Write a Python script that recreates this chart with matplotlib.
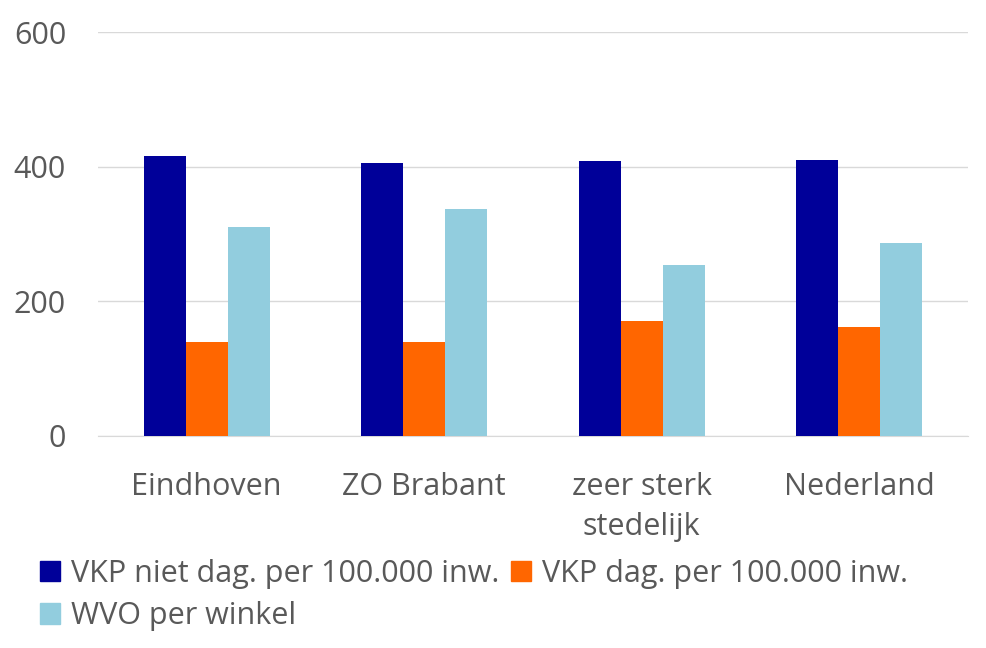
import matplotlib
matplotlib.use("Agg")
import matplotlib.pyplot as plt
import numpy as np
from matplotlib.patches import Patch

categories = ["Eindhoven", "ZO Brabant", "zeer sterk\nstedelijk", "Nederland"]
series_names = ["VKP niet dag. per 100.000 inw.", "VKP dag. per 100.000 inw.", "WVO per winkel"]
vkp_niet_dag = [416, 405, 408, 410]
vkp_dag = [139, 139, 171, 162]
wvo_per_winkel = [310, 337, 254, 287]
yticks = [0, 200, 400, 600]

colors = ["#000099", "#FF6600", "#92CDDE"]
text_color = "#595959"
grid_color = "#D9D9D9"

plt.rcParams['font.family'] = ['Open Sans', 'DejaVu Sans']
fs = 22

fig = plt.figure(figsize=(9.87, 6.48), dpi=100)
ax = fig.add_axes([98/987, 1 - 435.7/648, (968-98)/987, (435.7-32.3)/648])

x = np.arange(len(categories))
w = 0.193
data = [vkp_niet_dag, vkp_dag, wvo_per_winkel]
for i, (vals, c) in enumerate(zip(data, colors)):
    ax.bar(x + (i - 1) * w, vals, width=w, color=c, zorder=3, linewidth=0)

ax.set_xlim(-0.5, len(categories) - 0.5)
ax.set_ylim(0, 600)
ax.set_yticks(yticks)
ax.set_yticklabels([str(t) for t in yticks])
ax.set_xticks(x)
ax.set_xticklabels(categories, linespacing=1.45)
ax.tick_params(axis='both', length=0, labelsize=fs, colors=text_color)
ax.tick_params(axis='x', pad=26)
ax.tick_params(axis='y', pad=23)
ax.yaxis.grid(True, color=grid_color, linewidth=1, zorder=0)
for s in ax.spines.values():
    s.set_visible(False)
ax.spines['bottom'].set_visible(True)
ax.spines['bottom'].set_color(grid_color)

handles = [Patch(color=colors[0], label=series_names[0]),
           Patch(color=colors[2], label=series_names[2]),
           Patch(color=colors[1], label=series_names[1])]
leg = fig.legend(handles=handles, ncol=2, loc='upper left',
                 bbox_to_anchor=(40/987, 1 - 559/648), frameon=False,
                 fontsize=fs, handlelength=0.65, handleheight=0.65,
                 handletextpad=0.35, columnspacing=0.4, labelspacing=0.4,
                 borderpad=0, borderaxespad=0)
for t in leg.get_texts():
    t.set_color(text_color)

fig.savefig("out.png", dpi=100)
